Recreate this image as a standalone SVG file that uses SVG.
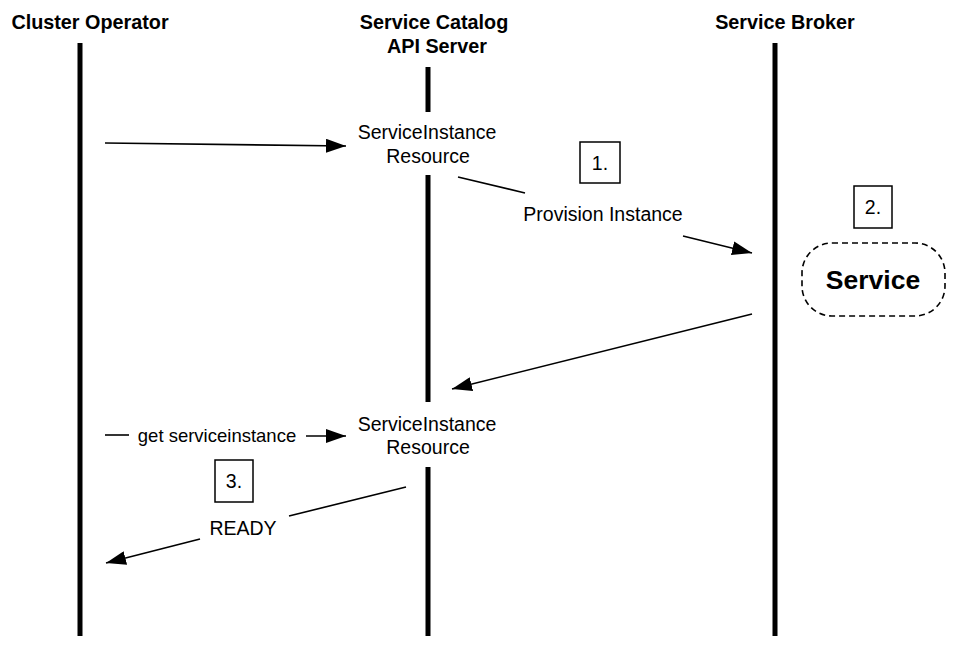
<svg xmlns="http://www.w3.org/2000/svg" width="964" height="654" viewBox="0 0 964 654">
<defs>
<marker id="arr" viewBox="0 0 20 14" refX="20" refY="7" markerWidth="20" markerHeight="14" markerUnits="userSpaceOnUse" orient="auto">
<path d="M0,0 L20,7 L0,14 Z" fill="#000"/>
</marker>
<style>
.hdr{font-family:"Liberation Sans",Arial,sans-serif;font-weight:bold;font-size:19.8px;text-anchor:middle;fill:#000}
.lbl{font-family:"Liberation Sans",Arial,sans-serif;font-size:19.5px;text-anchor:middle;fill:#000}
.sm{font-family:"Liberation Sans",Arial,sans-serif;font-size:18.5px;text-anchor:middle;fill:#000}
.life{stroke:#000;stroke-width:5;fill:none}
.msg{stroke:#000;stroke-width:1.6;fill:none}
.step{fill:#fff;stroke:#000;stroke-width:1.5}
</style>
</defs>
<rect width="964" height="654" fill="#fff"/>
<g id="cluster-operator">
<text class="hdr" x="90" y="29">Cluster Operator</text>
<line class="life" x1="80" y1="43" x2="80" y2="636"/>
</g>
<g id="api-server">
<text class="hdr" x="434" y="29">Service Catalog</text>
<text class="hdr" x="437" y="53">API Server</text>
<line class="life" x1="428" y1="67" x2="428" y2="112"/>
<line class="life" x1="428" y1="175" x2="428" y2="402"/>
<line class="life" x1="428" y1="467" x2="428" y2="636"/>
</g>
<g id="service-broker">
<text class="hdr" x="785" y="29">Service Broker</text>
<line class="life" x1="775" y1="43" x2="775" y2="636"/>
</g>
<g id="resource-1">
<text class="lbl" x="427" y="139">ServiceInstance</text>
<text class="lbl" x="428" y="163">Resource</text>
</g>
<g id="resource-2">
<text class="lbl" x="427" y="431">ServiceInstance</text>
<text class="lbl" x="428" y="454">Resource</text>
</g>
<g id="service">
<rect x="802" y="243" width="143" height="73" rx="30" ry="30" fill="#fff" stroke="#000" stroke-width="1.6" stroke-dasharray="6,4"/>
<text x="873" y="289" font-family="'Liberation Sans',Arial,sans-serif" font-weight="bold" font-size="26.5" text-anchor="middle">Service</text>
</g>
<g id="step-1">
<rect class="step" x="580" y="142" width="40" height="41"/>
<text class="lbl" x="600" y="170">1.</text>
</g>
<g id="step-2">
<rect class="step" x="854" y="186" width="38" height="42"/>
<text class="lbl" x="873" y="214">2.</text>
</g>
<g id="step-3">
<rect class="step" x="215" y="460" width="38" height="42"/>
<text class="lbl" x="234" y="488">3.</text>
</g>
<g id="connectors">
<line class="msg" x1="105" y1="143" x2="346" y2="146" marker-end="url(#arr)"/>
<line class="msg" x1="458" y1="177" x2="525" y2="193"/>
<text class="lbl" x="603" y="221">Provision Instance</text>
<line class="msg" x1="683" y1="236" x2="752" y2="253" marker-end="url(#arr)"/>
<line class="msg" x1="752" y1="314" x2="452" y2="389" marker-end="url(#arr)"/>
<line class="msg" x1="105" y1="435" x2="129" y2="435"/>
<text class="sm" x="217" y="442">get serviceinstance</text>
<line class="msg" x1="306" y1="436" x2="346" y2="436" marker-end="url(#arr)"/>
<line class="msg" x1="406" y1="487" x2="289" y2="516"/>
<text class="lbl" x="243" y="535">READY</text>
<line class="msg" x1="200" y1="539" x2="106" y2="563" marker-end="url(#arr)"/>
</g>
</svg>
